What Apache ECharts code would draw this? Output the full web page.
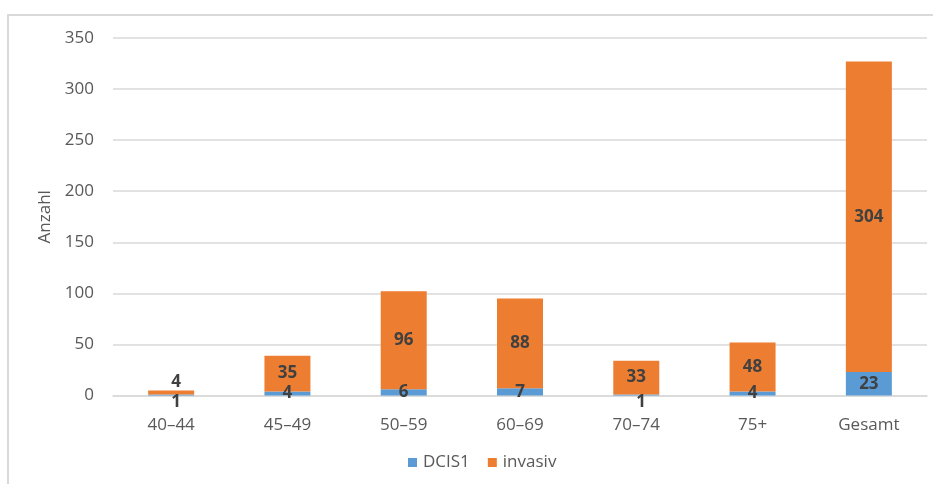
<!DOCTYPE html>
<html>
<head>
<meta charset="utf-8">
<script src="https://cdn.jsdelivr.net/npm/echarts@6/dist/echarts.min.js"></script>
<style>
html,body{margin:0;padding:0;background:#fff;}
#frame{position:absolute;left:7px;top:14px;width:940px;height:480px;border-left:2px solid #d9d9d9;border-top:2px solid #d9d9d9;}
#chart{position:absolute;left:0;top:0;width:933px;height:484px;}
</style>
</head>
<body>
<div id="frame"></div>
<div id="chart"></div>
<script>
const categories = ['40–44', '45–49', '50–59', '60–69', '70–74', '75+', 'Gesamt'];
const dcis = [1, 4, 6, 7, 1, 4, 23];
const invasiv = [4, 35, 96, 88, 33, 48, 304];
const yTicks = { min: 0, max: 350, interval: 50 };

const font = "'Open Sans', 'Noto Sans', sans-serif";
const chart = echarts.init(document.getElementById('chart'));

// Excel-like nudging of labels on very thin segments
function smallLayout(dir, limit) {
  return function (p) {
    if (p.rect.height < limit) {
      if (dir < 0) return { y: p.rect.y - 8.5, verticalAlign: 'middle' };
      return { y: p.rect.y + p.rect.height + 6.5, verticalAlign: 'middle' };
    }
    return {};
  };
}

chart.setOption({
  animation: false,
  textStyle: { fontFamily: font },
  grid: { left: 113, right: 6, top: 38, bottom: 88.5, containLabel: false },
  legend: {
    bottom: 8,
    left: 403,
    itemWidth: 9,
    itemHeight: 9,
    itemGap: 18,
    icon: 'rect',
    textStyle: { color: '#595959', fontSize: 17, fontFamily: font, padding: [0, 0, 0, 1] },
    data: ['DCIS1', 'invasiv']
  },
  xAxis: {
    type: 'category',
    data: categories,
    axisLine: { show: true, lineStyle: { color: '#d9d9d9', width: 1.5 } },
    axisTick: { show: false },
    axisLabel: { color: '#595959', fontSize: 17, margin: 21, fontFamily: font }
  },
  yAxis: {
    type: 'value',
    min: yTicks.min, max: yTicks.max, interval: yTicks.interval,
    name: 'Anzahl',
    nameLocation: 'middle',
    nameRotate: 90,
    nameGap: 58,
    nameTextStyle: { color: '#595959', fontSize: 17, fontFamily: font },
    axisLine: { show: false },
    axisTick: { show: false },
    axisLabel: { color: '#595959', fontSize: 17, margin: 19, fontFamily: font },
    splitLine: { lineStyle: { color: '#d9d9d9', width: 1.5 } }
  },
  series: [
    {
      name: 'DCIS1', type: 'bar', stack: 'total', data: dcis,
      barWidth: 46,
      itemStyle: { color: '#5b9bd5' },
      label: { show: true, position: 'inside', color: '#404040', fontWeight: 'bold', fontSize: 17, fontFamily: font },
      labelLayout: smallLayout(1, 3)
    },
    {
      name: 'invasiv', type: 'bar', stack: 'total', data: invasiv,
      barWidth: 46,
      itemStyle: { color: '#ed7d31' },
      label: { show: true, position: 'inside', color: '#404040', fontWeight: 'bold', fontSize: 17, fontFamily: font },
      labelLayout: smallLayout(-1, 10)
    }
  ]
});
</script>
</body>
</html>
